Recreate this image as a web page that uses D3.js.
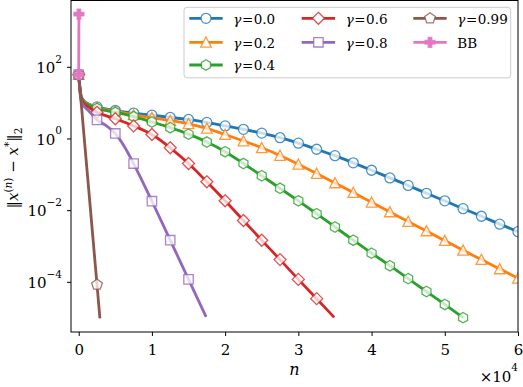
<!DOCTYPE html>
<html><head><meta charset="utf-8">
<script src="https://cdn.jsdelivr.net/npm/d3@7"></script>
<style>
body{margin:0;background:#fff}
svg{display:block}
</style>
</head><body>
<svg id="chart" width="523" height="387"></svg>
<script>
const xTickValues = [0, 10000, 20000, 30000, 40000, 50000, 60000];
const xTickLabels = ["0", "1", "2", "3", "4", "5", "6"];
const yTickValues = [1e2, 1e0, 1e-2, 1e-4];
const yTickExponents = ["2", "0", "\u22122", "\u22124"];

const seriesNames = ["0.0", "0.2", "0.4", "0.6", "0.8", "0.99", "BB"];

const nGamma00 = [0,150,300,600,1000,1500,2500,5000,7500,10000,12500,15000,17500,20000,22500,25000,27500,30000,32500,35000,37500,40000,42500,45000,47500,50000,52500,55000,57500,60000];
const errGamma00 = [60.3,28.2,16.6,12.0,10.0,8.91,7.59,6.03,5.13,4.47,3.86,3.39,2.80,2.24,1.80,1.41,1.05,0.741,0.501,0.331,0.209,0.130,0.0794,0.0490,0.0295,0.0182,0.0110,0.00676,0.00407,0.00251];

const nGamma02 = [0,150,300,600,1000,1500,2500,5000,7500,10000,12500,15000,17500,20000,22500,25000,27500,30000,32500,35000,37500,40000,42500,45000,47500,50000,52500,55000,57500,60000];
const errGamma02 = [60.3,28.2,16.2,11.7,9.77,8.71,7.24,5.75,4.57,3.80,3.16,2.57,1.91,1.29,0.851,0.550,0.335,0.191,0.105,0.0575,0.0309,0.0166,0.00891,0.00479,0.00263,0.00141,0.000759,0.000417,0.000229,0.000126];

const nGamma04 = [0,150,300,600,1000,1500,2500,5000,7500,10000,12500,15000,17500,20000,22500,25000,27500,30000,32500,35000,37500,40000,42500,45000,47500,50000,52500];
const errGamma04 = [60.3,26.9,15.5,11.2,9.33,8.32,6.92,5.37,4.07,2.88,2.00,1.32,0.794,0.427,0.200,0.0912,0.0407,0.0182,0.00794,0.00339,0.00145,0.000631,0.000282,0.000123,0.0000537,0.0000234,0.0000100];

const nGamma06 = [0,150,300,600,1000,1500,2500,5000,7500,10000,12500,15000,17500,20000,22500,25000,27500,30000,32500,34900];
const errGamma06 = [60.3,25.1,14.1,10.0,8.32,7.08,5.37,3.55,2.24,1.29,0.550,0.200,0.0617,0.0182,0.00513,0.00145,0.000417,0.000117,0.0000339,0.0000102];

const nGamma08 = [0,150,300,600,1000,1500,2500,3750,5000,6250,7500,8750,10000,12500,15000,17400];
const errGamma08 = [60.3,22.4,12.0,8.51,6.92,5.50,3.31,2.29,1.38,0.589,0.200,0.0603,0.0178,0.00145,0.000117,0.0000105];

const nGamma099 = [0, 2500, 2900];
const errGamma099 = [60.3, 0.0000832, 0.0000095];

const nBB = [0, 30];
const errBB = [60.3, 2950];

const colors = ["#1f77b4","#ff7f0e","#2ca02c","#d62728","#9467bd","#8c564b","#e377c2"];
const markers = ["o","^","h","D","s","p","P"];
const markStep = [2500,2500,2500,2500,2500,2500,1];
const SERIF = "DejaVu Serif";

const seriesN = [nGamma00,nGamma02,nGamma04,nGamma06,nGamma08,nGamma099,nBB];
const seriesE = [errGamma00,errGamma02,errGamma04,errGamma06,errGamma08,errGamma099,errBB];
const series = seriesNames.map((name,i)=>({
  name, color:colors[i], marker:markers[i], step:markStep[i],
  pts: seriesN[i].map((n,j)=>({n, e: seriesE[i][j], idx:j}))
}));

const L = 71, R = 518, T = 0.5, B = 332;
const svg = d3.select("#chart");

const x = d3.scaleLinear().domain([-1052, 60000]).range([L, R]);
const y = d3.scaleLog().domain([Math.pow(10,-5.40), Math.pow(10,3.85)]).range([B, T]);

function polyPath(k, R0, rot){
  const p = [];
  for(let i=0;i<k;i++){
    const a = (rot + i*360/k) * Math.PI/180;
    p.push([R0*Math.cos(a), R0*Math.sin(a)]);
  }
  return "M" + p.map(q=>q[0].toFixed(2)+","+q[1].toFixed(2)).join("L") + "Z";
}
function markerPath(t){
  switch(t){
    case "o": return "M5,0A5,5 0 1,1 -5,0A5,5 0 1,1 5,0Z";
    case "^": return "M0,-5.3L5.3,4.8L-5.3,4.8Z";
    case "h": return polyPath(6, 5.2, -90);
    case "D": return "M0,-6L6,0L0,6L-6,0Z";
    case "s": return "M-4.7,-4.7L4.7,-4.7L4.7,4.7L-4.7,4.7Z";
    case "p": return polyPath(5, 5.6, -90);
    case "P": { const a=5, w=1.8; return `M${-w},${-a}L${w},${-a}L${w},${-w}L${a},${-w}L${a},${w}L${w},${w}L${w},${a}L${-w},${a}L${-w},${w}L${-a},${w}L${-a},${-w}L${-w},${-w}Z`; }
  }
}

svg.append("defs").append("clipPath").attr("id","clip")
  .append("rect").attr("x",L).attr("y",T).attr("width",R-L).attr("height",B-T);

const plot = svg.append("g").attr("clip-path","url(#clip)");
const line = d3.line().x(d=>x(d.n)).y(d=>y(d.e)).curve(d3.curveMonotoneX);

series.forEach(s=>{
  plot.append("path").datum(s.pts)
    .attr("d", line).attr("fill","none")
    .attr("stroke", s.color).attr("stroke-width", 2.8)
    .attr("stroke-linejoin","round");
  const mk = s.pts.filter(d => s.step === 1 || d.n % s.step === 0);
  plot.selectAll(null).data(mk).enter().append("path")
    .attr("d", markerPath(s.marker))
    .attr("transform", d=>`translate(${x(d.n)},${y(d.e)})`)
    .attr("fill", s.marker === "P" ? s.color : "#fff")
    .attr("fill-opacity", s.marker === "P" ? 1 : 0.75)
    .attr("stroke", s.color).attr("stroke-width", 1.3).attr("stroke-opacity", 0.8);
});

svg.append("rect").attr("x",L).attr("y",T).attr("width",R-L).attr("height",B-T)
  .attr("fill","none").attr("stroke","#000").attr("stroke-width",1);

// x axis
const xAxis = svg.append("g").attr("transform",`translate(0,${B})`)
  .call(d3.axisBottom(x).tickValues(xTickValues).tickSize(4).tickFormat((d,i)=>xTickLabels[i]));
xAxis.attr("font-family", SERIF).attr("font-size", 15);
xAxis.select(".domain").remove();
xAxis.selectAll(".tick line").attr("stroke","#000");
xAxis.selectAll(".tick text").attr("y", 22.5).attr("dy", null).attr("fill","#000");

// y axis
const yAxis = svg.append("g").attr("transform",`translate(${L},0)`)
  .call(d3.axisLeft(y).tickValues(yTickValues).tickSize(4).tickFormat(""));
yAxis.select(".domain").remove();
yAxis.selectAll(".tick line").attr("stroke","#000");
yTickValues.forEach((v,i)=>{
  const t = svg.append("text").attr("x", 62).attr("y", y(v)+6.2)
    .attr("text-anchor","end").attr("font-family",SERIF).attr("font-size",15);
  t.append("tspan").text("10");
  t.append("tspan").attr("dy",-10.5).attr("font-size",10.5).text(yTickExponents[i]);
});

// x label
svg.append("text").attr("x",(L+R)/2).attr("y",375).attr("text-anchor","middle")
  .attr("font-family",SERIF).attr("font-size",16).attr("font-style","italic").text("n");

const off = svg.append("text").attr("x",518).attr("y",381.5).attr("text-anchor","end")
  .attr("font-family",SERIF).attr("font-size",15);
off.append("tspan").text("\u00d710");
off.append("tspan").attr("dy",-10.5).attr("font-size",10.5).text("4");

// y label
const yl = svg.append("text").attr("transform","translate(18,168) rotate(-90)")
  .attr("text-anchor","middle").attr("font-family",SERIF).attr("font-size",15);
yl.append("tspan").text("\u2016");
yl.append("tspan").attr("font-style","italic").text("x");
yl.append("tspan").attr("dy",-6.5).attr("font-size",10.5).text("(");
yl.append("tspan").attr("font-size",10.5).attr("font-style","italic").text("n");
yl.append("tspan").attr("font-size",10.5).text(")");
yl.append("tspan").attr("dy",6.5).text(" \u2212 ");
yl.append("tspan").attr("font-style","italic").text("x");
yl.append("tspan").attr("dy",-6.5).attr("font-size",10.5).text("*");
yl.append("tspan").attr("dy",6.5).text("\u2016");
yl.append("tspan").attr("dy",3.5).attr("font-size",10.5).text("2");

// legend
const lg = svg.append("g");
lg.append("rect").attr("x",184).attr("y",7.3).attr("width",326.7).attr("height",70.5)
  .attr("rx",3).attr("fill","#fff").attr("fill-opacity",0.8)
  .attr("stroke","#cccccc").attr("stroke-width",1);
const colX = [189.3, 301.7, 413.3];
const rowY = [18.3, 42.3, 65];
const layout = [[0,0],[0,1],[0,2],[1,0],[1,1],[2,0],[2,1]];
series.forEach((s,i)=>{
  const cx = colX[layout[i][0]], cy = rowY[layout[i][1]];
  lg.append("line").attr("x1",cx).attr("x2",cx+33.4).attr("y1",cy).attr("y2",cy)
    .attr("stroke",s.color).attr("stroke-width",2.8);
  lg.append("path").attr("d",markerPath(s.marker))
    .attr("transform",`translate(${cx+16.7},${cy})`)
    .attr("fill", s.marker === "P" ? s.color : "#fff")
    .attr("stroke", s.color).attr("stroke-width",1.3).attr("stroke-opacity",0.8);
  const t = lg.append("text").attr("x",cx+44).attr("y",cy+5.2)
    .attr("font-family",SERIF).attr("font-size",13.5);
  if(s.name === "BB"){ t.text("BB"); }
  else {
    t.append("tspan").attr("font-style","italic").text("\u03b3");
    t.append("tspan").attr("dx",0.5).text("=");
    t.append("tspan").attr("dx",0.5).text(s.name);
  }
});
</script>
</body></html>
